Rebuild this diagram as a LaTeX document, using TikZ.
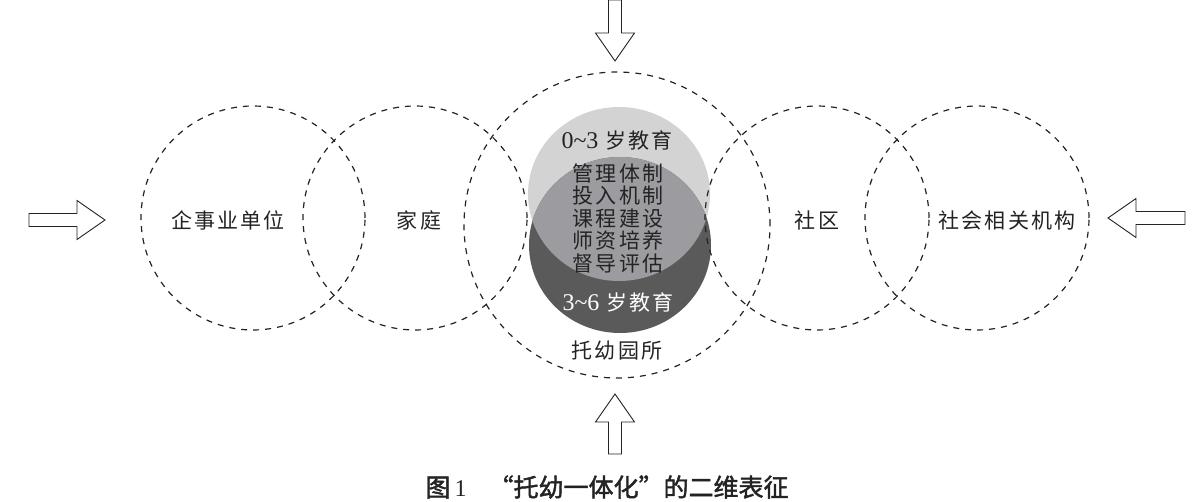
\documentclass[tikz,border=0pt]{standalone}
\usepackage{fontspec}
\setmainfont{Liberation Serif}
\newfontfamily\cjk{Noto Sans CJK SC}[LetterSpace=10]
\newfontfamily\cjkcap{Noto Sans CJK SC}[FakeBold=1.8]
\usetikzlibrary{shapes.geometric}
\definecolor{ink}{RGB}{35,35,35}
\definecolor{pale}{RGB}{211,211,211}
\definecolor{mist}{RGB}{155,155,160}
\definecolor{slate}{RGB}{90,90,90}
\newcommand{\yr}[1]{{\rmfamily\fontsize{24}{24}\selectfont #1}}
\tikzset{
  zone/.style={circle,draw=ink,line width=1.2pt,dash pattern=on 6pt off 6pt,
    minimum size=#1,inner sep=0pt},
  zone/.default=224pt,
  tag/.style={font=\cjk\fontsize{21}{22.5}\selectfont,text=ink,inner sep=0pt,align=center},
  % hollow arrows
  pics/inarrow/.style={code={
    \draw[ink,line width=0.9pt,fill=white] (0,-6.5) -- (#1-28,-6.5) -- (#1-28,-19.5)
      -- (#1,0) -- (#1-28,19.5) -- (#1-28,6.5) -- (0,6.5) -- cycle;
  }},
  pics/inarrow/.default=76,
}

\begin{document}
\begin{tikzpicture}[x=1pt,y=-1pt]
    \useasboundingbox (0,0) rectangle (1200,501);
    % 0~3 and 3~6
    \fill[pale] (619,194) ellipse [x radius=91pt,y radius=87pt];
    \fill[slate] (620,245) ellipse [x radius=91pt,y radius=88pt];
    \begin{scope}
      \clip (619,194) ellipse [x radius=91pt,y radius=87pt];
      \fill[mist] (620,245) ellipse [x radius=91pt,y radius=88pt];
    \end{scope}
    \node[zone=306pt] (tyys) at (617,225) {};
    \foreach \n/\x in {qsy/253,jt/415,sq/817,shjg/977}
      \node[zone] (\n) at (\x,218) {};
    \node[tag] (lqsy) at (228,220) {企事业单位};
    \node[tag] (ljt) at (419,220) {家庭};
    \node[tag] (lsq) at (817,220) {社区};
    \node[tag] (lshjg) at (1007,220) {社会相关机构};
    \node[tag] (t03) at (617,140) {\yr{0\textasciitilde3} 岁教育};
    \node[tag] (core) at (618,218) {管理体制\\投入机制\\课程建设\\师资培养\\督导评估};
    \node[tag,text=white] (t36) at (618,302) {\yr{3\textasciitilde6} 岁教育};
    \node[tag] (ltyys) at (617,351) {托幼园所};
    \pic at (29,220) {inarrow=76};
    \pic[rotate=180] at (1185,218) {inarrow=77};
    \pic[rotate=-90] at (615,0) {inarrow=61};
    \pic[rotate=90] at (615,454) {inarrow=60};
    \node[font=\fontsize{25}{30}\selectfont,text=ink,inner sep=0pt] (cap) at (607,487)
      {{\cjkcap 图}\,\yr{1}\hspace{22pt}{\cjkcap “托幼一体化”的二维表征}};
  \end{tikzpicture}
\end{document}
